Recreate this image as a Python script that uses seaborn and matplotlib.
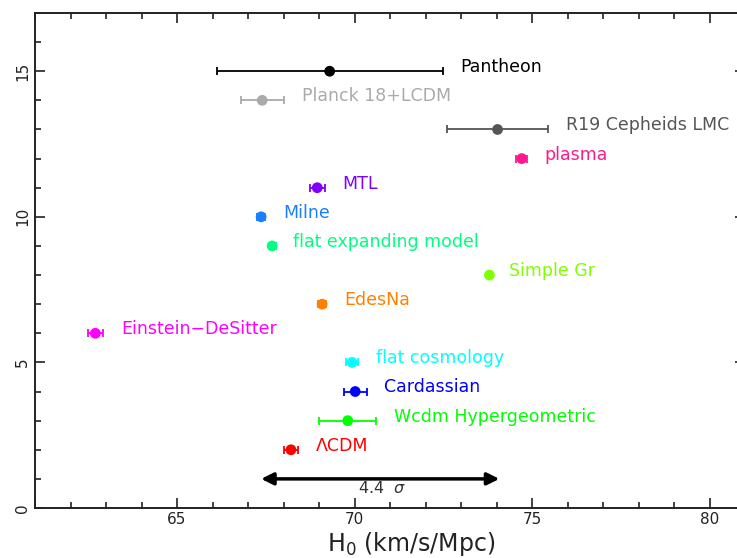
import numpy as np
import pandas as pd
import matplotlib
matplotlib.use("Agg")
import matplotlib.pyplot as plt
import seaborn as sns
from matplotlib.ticker import MultipleLocator

# H0 estimates
names = ["Pantheon", "Planck 18+LCDM", "R19 Cepheids LMC", "plasma", "MTL", "Milne",
         "flat expanding model", "Simple Gr", "EdesNa", "Einstein\u2212DeSitter",
         "flat cosmology", "Cardassian", "Wcdm Hypergeometric", "\u039bCDM"]
h0 = [69.30, 67.40, 74.03, 74.71, 68.95, 67.37, 67.68, 73.80, 69.09, 62.70,
      69.93, 70.02, 69.81, 68.21]
h0_err = [3.18, 0.61, 1.42, 0.15, 0.21, 0.12, 0.10, 0.05, 0.12, 0.22,
          0.17, 0.32, 0.80, 0.20]
rank = [15, 14, 13, 12, 11, 10, 9, 8, 7, 6, 5, 4, 3, 2]
colors = ["#000000", "#aaaaaa", "#555555", "#ff1a8c", "#8000ff", "#1a80ff",
          "#00ff80", "#80ff00", "#ff8000", "#ff00ff", "#00ffff", "#0000ff",
          "#00ff00", "#ff0000"]

# tension arrow between Planck and R19
arrow_from = 67.37
arrow_to = 74.08
tension_label = "4.4  $\\sigma$"

df = pd.DataFrame({"name": names, "H0": h0, "err": h0_err, "rank": rank})
palette = dict(zip(names, colors))

sns.set_style("ticks")
plt.rcParams["font.family"] = ["DejaVu Sans"]

fig = plt.figure(figsize=(7.37, 5.58), dpi=100)
ax = fig.add_axes([35 / 737, 50 / 558, 710 / 737, 495 / 558])

for _, row in df.iterrows():
    ax.errorbar(row["H0"], row["rank"], xerr=row["err"], fmt="none",
                ecolor=palette[row["name"]], elinewidth=1.3, capsize=3, capthick=1.3, zorder=2)

sns.scatterplot(data=df, x="H0", y="rank", hue="name", palette=palette, s=60,
                edgecolor="none", legend=False, ax=ax, zorder=3)

for _, row in df.iterrows():
    ax.text(row["H0"] + row["err"] + 0.5, row["rank"] + 0.14, row["name"],
            color=palette[row["name"]], fontsize=12.5, va="center", ha="left")

ax.annotate("", xy=(arrow_to, 1), xytext=(arrow_from, 1),
            arrowprops=dict(arrowstyle="<|-|>", color="black", lw=2.5,
                            mutation_scale=18, shrinkA=0, shrinkB=0))
ax.text((arrow_from + arrow_to) / 2 + 0.05, 0.68, tension_label, fontsize=11.5,
        color="#333333", ha="center", va="center")

ax.set_xlim(61, 81)
ax.set_ylim(0, 17)
ax.xaxis.set_major_locator(MultipleLocator(5))
ax.xaxis.set_minor_locator(MultipleLocator(1))
ax.yaxis.set_major_locator(MultipleLocator(5))
ax.yaxis.set_minor_locator(MultipleLocator(1))
ax.tick_params(which="both", direction="in", top=True, right=True, width=1.2,
               labelsize=11, colors="#222222")
ax.tick_params(which="major", length=7)
ax.tick_params(which="minor", length=4)
ax.tick_params(axis="x", pad=3)
for lbl in ax.get_yticklabels():
    lbl.set_rotation(90)
    lbl.set_va("center")
for sp in ax.spines.values():
    sp.set_linewidth(1.4)
    sp.set_color("#222222")
    sp.set_visible(True)

ax.set_xlabel("H$_0$ (km/s/Mpc)", fontsize=17, color="#222222", va="baseline")
ax.xaxis.set_label_coords(0.53, -0.086)
ax.set_ylabel("")

fig.savefig("out.png", dpi=100)
